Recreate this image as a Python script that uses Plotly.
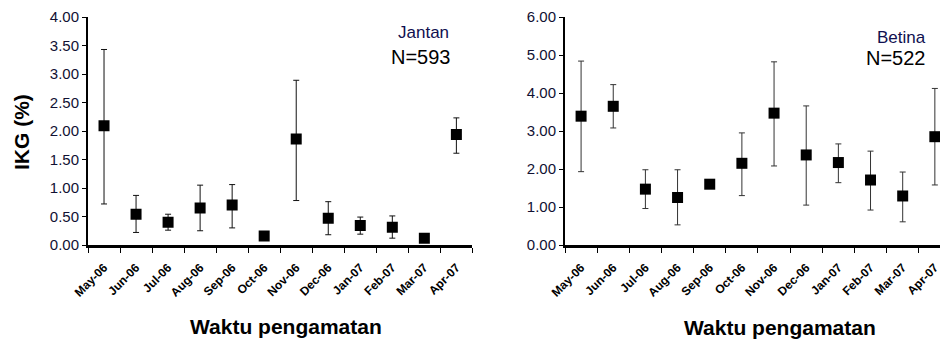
import plotly.graph_objects as go

months = ["May-06", "Jun-06", "Jul-06", "Aug-06", "Sep-06", "Oct-06",
          "Nov-06", "Dec-06", "Jan-07", "Feb-07", "Mar-07", "Apr-07"]

# Jantan (male)
jantan_mean = [2.09, 0.54, 0.40, 0.65, 0.70, 0.16, 1.86, 0.47, 0.34, 0.31, 0.12, 1.94]
jantan_upper = [3.43, 0.87, 0.54, 1.05, 1.06, 0.22, 2.89, 0.76, 0.49, 0.51, 0.15, 2.23]
jantan_lower = [0.72, 0.22, 0.26, 0.25, 0.30, 0.10, 0.78, 0.18, 0.19, 0.12, 0.09, 1.61]

# Betina (female)
betina_mean = [3.39, 3.65, 1.47, 1.25, 1.60, 2.15, 3.47, 2.37, 2.17, 1.71, 1.29, 2.85]
betina_upper = [4.84, 4.22, 1.98, 1.98, 1.68, 2.95, 4.82, 3.66, 2.66, 2.47, 1.92, 4.12]
betina_lower = [1.93, 3.08, 0.96, 0.53, 1.52, 1.30, 2.08, 1.05, 1.64, 0.92, 0.61, 1.58]

W, H = 940, 341
FONT = "Liberation Sans, Arial, sans-serif"

def err(mean, up, lo, color):
    return dict(type="data", symmetric=False,
                array=[u - m for u, m in zip(up, mean)],
                arrayminus=[m - l for m, l in zip(mean, lo)],
                color=color, thickness=1, width=3)

fig = go.Figure()
fig.add_trace(go.Scatter(x=months, y=jantan_mean, mode="markers",
                         marker=dict(symbol="square", size=11, color="black"),
                         error_y=err(jantan_mean, jantan_upper, jantan_lower, "#111111"),
                         xaxis="x", yaxis="y", showlegend=False))
fig.add_trace(go.Scatter(x=months, y=betina_mean, mode="markers",
                         marker=dict(symbol="square", size=11, color="black"),
                         error_y=err(betina_mean, betina_upper, betina_lower, "#333333"),
                         xaxis="x2", yaxis="y2", showlegend=False))

ydom = [96 / H, 324 / H]
xcommon = dict(type="category", tickson="boundaries", ticks="outside", ticklen=5,
               tickwidth=1, tickcolor="black", showline=True, linewidth=3,
               linecolor="black", tickangle=-45, showgrid=False, zeroline=False,
               automargin=False, ticklabelstandoff=8,
               tickfont=dict(family=FONT, size=12, color="black", weight="bold"),
               categoryorder="array", categoryarray=months)
ycommon = dict(showline=True, linewidth=2, linecolor="black", ticks="outside",
               ticklen=4, tickwidth=1, tickcolor="black", showgrid=False,
               zeroline=False, tickformat=".2f", automargin=False,
               tickfont=dict(family=FONT, size=15, color="#111133"))

fig.update_layout(
    width=W, height=H,
    margin=dict(l=0, r=0, t=0, b=0, pad=0, autoexpand=False),
    paper_bgcolor="white", plot_bgcolor="white",
    xaxis=dict(domain=[88 / W, 472.4 / W], range=[-0.5, 11.5], anchor="y", **xcommon),
    yaxis=dict(domain=ydom, range=[0, 4], dtick=0.5, anchor="x", **ycommon),
    xaxis2=dict(domain=[565 / W, 1.0], range=[-0.5, 11.16], anchor="y2", **xcommon),
    yaxis2=dict(domain=ydom, range=[0, 6], dtick=1, anchor="x2", **ycommon),
)

ann = [
    dict(text="IKG (%)", x=21 / W, y=1 - 132 / H, textangle=-90,
         font=dict(family=FONT, size=21, color="black", weight="bold")),
    dict(text="Waktu pengamatan", x=286 / W, y=1 - 326 / H,
         font=dict(family=FONT, size=21, color="black", weight="bold")),
    dict(text="Waktu pengamatan", x=780 / W, y=1 - 327 / H,
         font=dict(family=FONT, size=21, color="black", weight="bold")),
    dict(text="Jantan", x=451 / W, y=1 - 32 / H, xanchor="right",
         font=dict(family=FONT, size=17, color="#101050")),
    dict(text="N=593", x=453 / W, y=1 - 57 / H, xanchor="right",
         font=dict(family=FONT, size=20, color="black")),
    dict(text="Betina", x=928 / W, y=1 - 37 / H, xanchor="right",
         font=dict(family=FONT, size=17, color="#101050")),
    dict(text="N=522", x=928 / W, y=1 - 58 / H, xanchor="right",
         font=dict(family=FONT, size=20, color="black")),
]
for a in ann:
    a.update(xref="paper", yref="paper", showarrow=False)
    a.setdefault("xanchor", "center")
    a.setdefault("yanchor", "middle")
fig.update_layout(annotations=ann)

fig.write_html("out.html", config={"displayModeBar": False},
               post_script="document.body.style.margin='0';document.body.style.padding='0';")
